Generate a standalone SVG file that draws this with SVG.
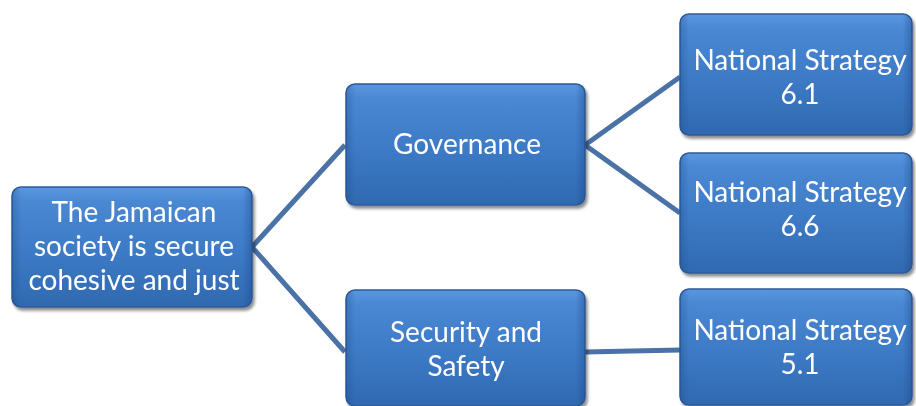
<svg xmlns="http://www.w3.org/2000/svg" width="916" height="406" viewBox="0 0 916 406">
  <defs>
    <linearGradient id="boxFill" x1="0" y1="0" x2="0" y2="1">
      <stop offset="0" stop-color="#5c97e0"/>
      <stop offset="0.12" stop-color="#4a88d4"/>
      <stop offset="0.6" stop-color="#3b78c3"/>
      <stop offset="1" stop-color="#3069b0"/>
    </linearGradient>
    <linearGradient id="edgeShade" x1="0" y1="0" x2="1" y2="0">
      <stop offset="0" stop-color="#1f4d8c" stop-opacity="0.35"/>
      <stop offset="0.04" stop-color="#1f4d8c" stop-opacity="0"/>
      <stop offset="0.96" stop-color="#1f4d8c" stop-opacity="0"/>
      <stop offset="1" stop-color="#1f4d8c" stop-opacity="0.45"/>
    </linearGradient>
    <filter id="drop" x="-10%" y="-10%" width="125%" height="130%">
      <feGaussianBlur in="SourceAlpha" stdDeviation="1.5"/>
      <feOffset dx="2" dy="3" result="b"/>
      <feComponentTransfer><feFuncA type="linear" slope="0.45"/></feComponentTransfer>
      <feMerge><feMergeNode/><feMergeNode in="SourceGraphic"/></feMerge>
    </filter>
  </defs>
  <style>
    .box { fill: url(#boxFill); stroke: #2c5a98; stroke-width: 1.5; }
    .shade { fill: url(#edgeShade); stroke: none; }
    .label { fill: #ffffff; font-family: Lato, "Open Sans", sans-serif; font-size: 28px; text-anchor: middle; }
    .link { fill: none; stroke: #4a72a6; stroke-width: 5; stroke-linejoin: round; }
  </style>

  <rect width="916" height="406" fill="#ffffff"/>

  <g id="connectors">
    <polyline class="link" points="345,145 252,247 345,352"/>
    <polyline class="link" points="680,77 585,145 680,213"/>
    <line class="link" x1="585" y1="352" x2="680" y2="350"/>
  </g>

  <g id="root" filter="url(#drop)">
    <rect class="box" x="12" y="187" width="240" height="120" rx="9"/>
    <rect class="shade" x="12" y="187" width="240" height="120" rx="9"/>
    <text class="label" x="134" y="222">The Jamaican</text>
    <text class="label" x="134" y="256">society is secure</text>
    <text class="label" x="134" y="290">cohesive and just</text>
  </g>

  <g id="governance" filter="url(#drop)">
    <rect class="box" x="346" y="84" width="239" height="121" rx="9"/>
    <rect class="shade" x="346" y="84" width="239" height="121" rx="9"/>
    <text class="label" x="467" y="154">Governance</text>
  </g>

  <g id="security" filter="url(#drop)">
    <rect class="box" x="346" y="290" width="239" height="116" rx="9"/>
    <rect class="shade" x="346" y="290" width="239" height="116" rx="9"/>
    <text class="label" x="466" y="342">Security and</text>
    <text class="label" x="466" y="376">Safety</text>
  </g>

  <g id="ns61" filter="url(#drop)">
    <rect class="box" x="680" y="14" width="232" height="121" rx="9"/>
    <rect class="shade" x="680" y="14" width="232" height="121" rx="9"/>
    <text class="label" x="800" y="70">National Strategy</text>
    <text class="label" x="800" y="104">6.1</text>
  </g>

  <g id="ns66" filter="url(#drop)">
    <rect class="box" x="680" y="153" width="232" height="120" rx="9"/>
    <rect class="shade" x="680" y="153" width="232" height="120" rx="9"/>
    <text class="label" x="800" y="202">National Strategy</text>
    <text class="label" x="800" y="236">6.6</text>
  </g>

  <g id="ns51" filter="url(#drop)">
    <rect class="box" x="680" y="289" width="232" height="116" rx="9"/>
    <rect class="shade" x="680" y="289" width="232" height="116" rx="9"/>
    <text class="label" x="800" y="340">National Strategy</text>
    <text class="label" x="800" y="374">5.1</text>
  </g>
</svg>
